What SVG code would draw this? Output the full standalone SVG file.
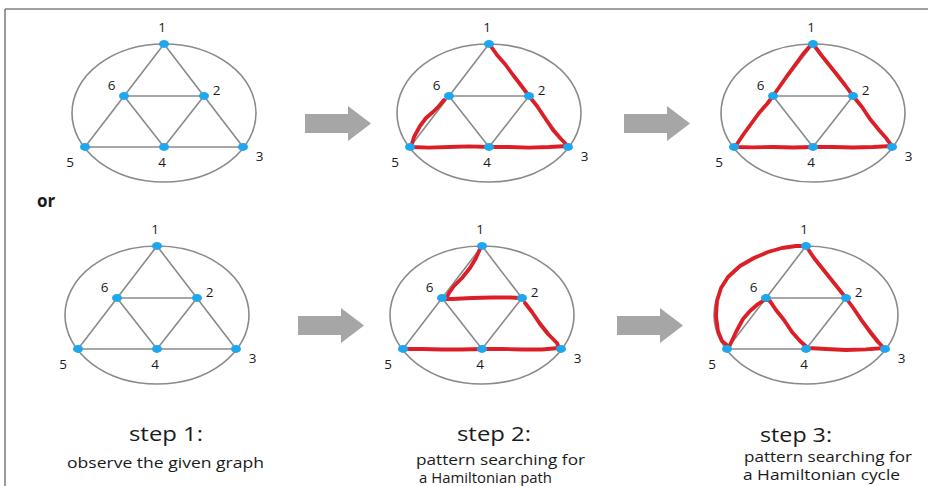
<svg xmlns="http://www.w3.org/2000/svg" xmlns:xlink="http://www.w3.org/1999/xlink" width="928" height="486" viewBox="0 0 928 486">
<style>
.ell{fill:none;stroke:#8a8a8a;stroke-width:1.6}
.edge{stroke:#8a8a8a;stroke-width:1.6;fill:none}
.red{fill:none;stroke:#dc1f26;stroke-width:3.8;stroke-linecap:round;stroke-linejoin:round}
.dot{fill:#1ea7ee}
.lbl{font-family:"Open Sans","DejaVu Sans",sans-serif;font-size:13.5px;fill:#1a1a1a;text-anchor:middle}
.step{font-family:"Open Sans","DejaVu Sans",sans-serif;font-size:20.5px;fill:#1a1a1a}
.desc{font-family:"Open Sans","DejaVu Sans",sans-serif;font-size:14.5px;fill:#1a1a1a}
.arrow{fill:#a6a6a6}
.frame{stroke:#808080;stroke-width:1.6;fill:none}
</style>
<defs>
<g id="edges">
<ellipse class="ell" cx="0" cy="69" rx="92" ry="69"/>
<path class="edge" d="M0,0 L-79,103 M0,0 L79,103 M-40,52 L40,52 M-40,52 L0,103 M40,52 L0,103 M-79,103 L79,103"/>
</g>
<g id="dots">
<g id="d1"><ellipse class="dot" cx="0" cy="0" rx="5" ry="3.9"/><text class="lbl" x="-2" y="-12">1</text></g>
<g id="d6"><ellipse class="dot" cx="-40" cy="52" rx="5" ry="3.9"/><text class="lbl" x="-52.5" y="46">6</text></g>
<g id="d2"><ellipse class="dot" cx="40" cy="52" rx="5" ry="3.9"/><text class="lbl" x="52.5" y="51">2</text></g>
<g id="d5"><ellipse class="dot" cx="-79" cy="103" rx="5" ry="3.9"/><text class="lbl" x="-94" y="122.5">5</text></g>
<g id="d4"><ellipse class="dot" cx="0" cy="103" rx="5" ry="3.9"/><text class="lbl" x="-2" y="122.5">4</text></g>
<g id="d3"><ellipse class="dot" cx="79" cy="103" rx="5" ry="3.9"/><text class="lbl" x="95.5" y="117">3</text></g>
</g>
<polygon id="arr" class="arrow" points="0,-9.5 43,-9.5 43,-17.5 66,0 43,17.5 43,9.5 0,9.5"/>
</defs>
<g id="frame"><path class="frame" d="M5,9 L928,9 M5,9 L5,486"/></g>

<g id="connectors">
<use xlink:href="#edges" transform="translate(164,44)"/>
<use xlink:href="#edges" transform="translate(489,44)"/>
<use xlink:href="#edges" transform="translate(813,44)"/>
<use xlink:href="#edges" transform="translate(157,246)"/>
<use xlink:href="#edges" transform="translate(482,246)"/>
<use xlink:href="#edges" transform="translate(806,246)"/>
<path class="red" transform="translate(489,44)" d="M1,1 L8,11 L16,20 L24,31 L31,40 L40,52 L48,62 L56,74 L64,86 L72,95 L79,102 L60,103 L40,103.6 L20,103 L0,103 L-20,102.4 L-40,103 L-60,103.6 L-78,103 L-75,93 L-69,82 L-63,74 L-56,68 L-50,62 L-45,56"/>
<path class="red" transform="translate(813,44)" d="M0,0 L9,12 L17,22 L25,32 L32,41 L40,52 L49,63 L57,75 L66,86 L73,94 L79,102 L60,103 L40,103.5 L20,103 L0,103 L-20,103.5 L-40,103 L-60,103.4 L-78,103 L-70,91 L-62,80 L-54,69 L-46,60 L-40,52 L-33,42 L-26,32 L-18,21 L-10,10 L-3,2 L0,0"/>
<path class="red" transform="translate(482,246)" d="M-2,3 L-6,12 L-12,22 L-20,32 L-28,40 L-33,47 L-36,53 L-30,53 L-10,52 L10,51.5 L28,51.5 L38,52 M43,57 L50,66 L58,78 L66,88 L75,97 L77,102 L60,103.5 L40,103.5 L20,103 L0,103 L-20,103.5 L-40,103.5 L-60,103 L-76,103"/>
<path class="red" transform="translate(806,246)" d="M0,0 L8,12 L16,22 L24,32 L32,42 L40,52 L48,63 L56,75 L64,86 L72,96 L78,102 L60,103.4 L40,104 L20,103 L2,102 L-6,95 L-14,86 L-22,74 L-30,64 L-36,55 L-40,53 L-48,58 L-56,65 L-63,73 L-70,86 L-77,101 L-84,95 L-88,85 L-90,70 L-89,55 L-85,42 L-78,31 L-66,20 L-52,12 L-38,6 L-24,2 L-10,0 Z"/>
</g>

<g id="graph1" transform="translate(164,44)"><use xlink:href="#dots"/></g>
<g id="graph2" transform="translate(489,44)"><use xlink:href="#dots"/></g>
<g id="graph3" transform="translate(813,44)"><use xlink:href="#dots"/></g>
<g id="graph4" transform="translate(157,246)"><use xlink:href="#dots"/></g>
<g id="graph5" transform="translate(482,246)"><use xlink:href="#dots"/></g>
<g id="graph6" transform="translate(806,246)"><use xlink:href="#dots"/></g>

<g id="arrows">
<use xlink:href="#arr" transform="translate(305,123.5)"/>
<use xlink:href="#arr" transform="translate(624,123.5)"/>
<use xlink:href="#arr" transform="translate(298,325.5)"/>
<use xlink:href="#arr" transform="translate(617,325.5)"/>
</g>

<text x="37" y="207" style="font-family:'Open Sans','DejaVu Sans',sans-serif;font-size:17px;font-weight:bold;fill:#1a1a1a">or</text>

<g id="captions">
<text class="step" x="129" y="441" textLength="74" lengthAdjust="spacingAndGlyphs">step 1:</text>
<text class="desc" x="67" y="468" textLength="197" lengthAdjust="spacingAndGlyphs">observe the given graph</text>
<text class="step" x="457" y="441" textLength="74" lengthAdjust="spacingAndGlyphs">step 2:</text>
<text class="desc" x="416" y="465" textLength="169" lengthAdjust="spacingAndGlyphs">pattern searching for</text>
<text class="desc" x="419" y="483" textLength="133" lengthAdjust="spacingAndGlyphs">a Hamiltonian path</text>
<text class="step" x="760" y="442" textLength="72" lengthAdjust="spacingAndGlyphs">step 3:</text>
<text class="desc" x="744" y="462" textLength="168" lengthAdjust="spacingAndGlyphs">pattern searching for</text>
<text class="desc" x="743" y="480" textLength="157" lengthAdjust="spacingAndGlyphs">a Hamiltonian cycle</text>
</g>
</svg>
